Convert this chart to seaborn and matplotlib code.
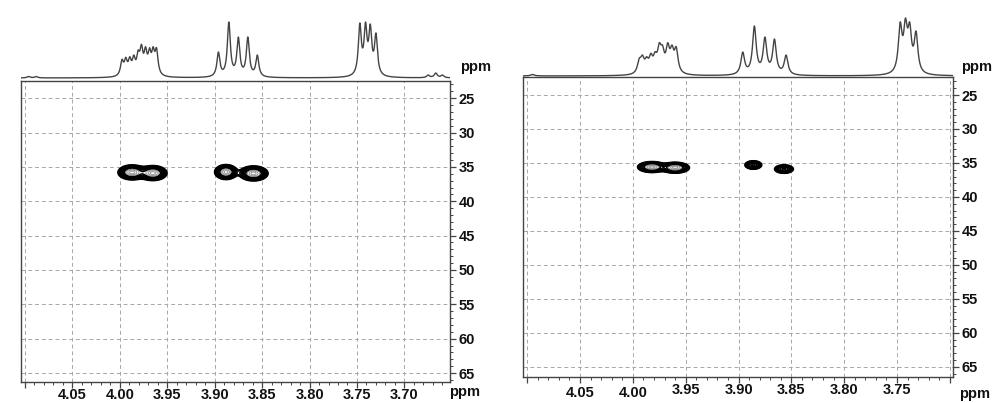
import numpy as np
import pandas as pd
import matplotlib
matplotlib.use("Agg")
import matplotlib.pyplot as plt
import seaborn as sns
from matplotlib.ticker import MultipleLocator
from matplotlib.transforms import ScaledTranslation

# ---------------- data ----------------
x_grid_ppm = [4.10, 4.05, 4.00, 3.95, 3.90, 3.85, 3.80, 3.75, 3.70]
left_x_labels = ["4.05", "4.00", "3.95", "3.90", "3.85", "3.80", "3.75", "3.70"]
right_x_labels = ["4.05", "4.00", "3.95", "3.90", "3.85", "3.80", "3.75"]
y_ticks = [25, 30, 35, 40, 45, 50, 55, 60, 65]

# 1D proton projection (peak shift, relative intensity)
left_1d_ppm = [4.096, 4.088,
               3.9976, 3.9936, 3.9894, 3.9852, 3.9806, 3.9771, 3.9728, 3.9686, 3.9648, 3.9612,
               3.896, 3.885, 3.875, 3.865, 3.855,
               3.747, 3.741, 3.736, 3.730,
               3.675, 3.667, 3.660]
left_1d_int = [1.5, 1.5,
               18.7, 20.7, 21.3, 23.0, 28.0, 33.7, 31.3, 30.3, 31.3, 30.3,
               26.0, 56.0, 41.0, 41.0, 23.0,
               55.0, 56.0, 54.0, 45.0,
               3.0, 5.0, 3.0]
right_1d_ppm = [4.095,
                3.994, 3.991, 3.987, 3.983, 3.979, 3.975, 3.972, 3.967, 3.963, 3.959,
                3.896, 3.885, 3.875, 3.866, 3.855,
                3.747, 3.742, 3.738, 3.732]
right_1d_int = [1.5,
                17.7, 21.0, 19.3, 22.7, 24.3, 33.3, 31.0, 33.3, 31.0, 29.3,
                24.0, 50.0, 39.0, 37.0, 21.0,
                54.0, 58.0, 54.0, 45.0]

# 2D cross peaks (1H shift, 13C shift, intensity, 1H width, 13C width)
left_2d_h = [3.987, 3.965, 3.888, 3.859]
left_2d_c = [35.8, 35.9, 35.75, 35.95]
left_2d_amp = [1.0, 1.0, 1.0, 1.0]
left_2d_wh = [0.0068, 0.0068, 0.0055, 0.0070]
left_2d_wc = [0.50, 0.50, 0.50, 0.50]

right_2d_h = [3.982, 3.960, 3.886, 3.857]
right_2d_c = [35.6, 35.7, 35.3, 35.9]
right_2d_amp = [1.0, 1.0, 0.55, 0.55]
right_2d_wh = [0.0062, 0.0062, 0.0042, 0.0047]
right_2d_wc = [0.37, 0.37, 0.33, 0.33]

# ---------------- style ----------------
sns.set_style("white")
plt.rcParams["font.family"] = ["Liberation Sans", "DejaVu Sans"]
plt.rcParams["font.weight"] = "bold"

W, H = 993, 403
fig = plt.figure(figsize=(W / 100, H / 100), dpi=100)


def rect(x0, y0, x1, y1):
    return [x0 / W, 1 - y1 / H, (x1 - x0) / W, (y1 - y0) / H]


def lor(x, x0, w):
    return 1.0 / (1.0 + ((x - x0) / w) ** 2)


def spectrum(ax, ppm, inten, xlim, w, ylim):
    P = np.array(ppm)
    Hh = np.array(inten)
    L = lor(P[:, None], P[None, :], w)
    A = np.clip(np.linalg.solve(L, Hh), 0, None)
    x = np.linspace(xlim[0], xlim[1], 4000)
    y = (A[None, :] * lor(x[:, None], P[None, :], w)).sum(1)
    df = pd.DataFrame({"ppm": x, "I": y})
    sns.lineplot(data=df, x="ppm", y="I", ax=ax, color="#444444", lw=1.0,
                 sort=False, estimator=None)
    ax.set_xlim(*xlim)
    ax.set_ylim(*ylim)
    ax.axis("off")


def panel(ax, xlim, ylim, labels, hs, cs, amps, whs, wcs):
    hx = np.linspace(xlim[0], xlim[1], 1000)
    cy = np.linspace(ylim[1], ylim[0], 700)
    HX, CY = np.meshgrid(hx, cy)
    Z = np.zeros_like(HX)
    for h0, c0, a, wh, wc in zip(hs, cs, amps, whs, wcs):
        Z += a * np.exp(-0.5 * ((HX - h0) / wh) ** 2 - 0.5 * ((CY - c0) / wc) ** 2)
    dark = 0.09 * 1.28 ** np.arange(8)
    light = [0.65, 0.8, 0.93, 1.2]
    ax.contour(HX, CY, Z, levels=dark, colors="black", linewidths=1.1)
    ax.contour(HX, CY, Z, levels=light, colors="#888888", linewidths=0.6)

    ax.set_xlim(*xlim)
    ax.set_ylim(*ylim)
    ax.set_xticks(x_grid_ppm)
    ax.set_xticklabels([f"{v:.2f}" if f"{v:.2f}" in labels else "" for v in x_grid_ppm])
    ax.xaxis.set_minor_locator(MultipleLocator(0.01))
    ax.yaxis.tick_right()
    ax.set_yticks(y_ticks)
    ax.yaxis.set_minor_locator(MultipleLocator(1))
    ax.tick_params(axis="both", which="major", direction="out", length=4, width=0.9,
                   color="#444444", labelsize=10.5)
    ax.tick_params(axis="x", which="major", pad=0)
    ax.tick_params(axis="y", which="major", pad=2)
    ax.tick_params(axis="both", which="minor", direction="out", length=2.5, width=0.7,
                   color="#444444")
    ax.tick_params(axis="x", which="both", bottom=True, top=False)
    ax.tick_params(axis="y", which="both", right=True, left=False)
    for t in ax.get_xticklabels() + ax.get_yticklabels():
        t.set_fontweight("bold")
        t.set_color("#111111")
    ax.grid(True, which="major", color="#a8a8a8", lw=0.7, ls=(0, (4, 3)))
    ax.set_xlabel("")
    ax.set_ylabel("")
    for s in ax.spines.values():
        s.set_color("#444444")
        s.set_linewidth(1.0)
        s.set_visible(True)


# left panel
lx = (4.104, 3.652)
axL = fig.add_axes(rect(21, 81, 450, 382))
panel(axL, lx, (66.3, 22.5), left_x_labels, left_2d_h, left_2d_c, left_2d_amp,
      left_2d_wh, left_2d_wc)
axLs = fig.add_axes(rect(21, 5, 450, 81))
spectrum(axLs, left_1d_ppm, left_1d_int, lx, 0.0019, (-3, 73))

# right panel
rx = (4.104, 3.697)
axR = fig.add_axes(rect(523, 77, 953, 377))
panel(axR, rx, (66.5, 22.35), right_x_labels, right_2d_h, right_2d_c, right_2d_amp,
      right_2d_wh, right_2d_wc)
axRs = fig.add_axes(rect(523, 5, 953, 77))
spectrum(axRs, right_1d_ppm, right_1d_int, rx, 0.0021, (-1, 71))

# in the scan the first two right-hand labels sit a little lower
for t in axR.get_xticklabels():
    if t.get_text() in ("4.05", "4.00"):
        t.set_transform(t.get_transform() + ScaledTranslation(0, -3 / 100, fig.dpi_scale_trans))

# unit labels
for (px, py) in [(476, 67), (977, 67), (465, 392), (975, 394)]:
    fig.text(px / W, 1 - py / H, "ppm", ha="center", va="center",
             fontsize=10.5, fontweight="bold", color="#111111")

fig.savefig("out.png", dpi=100)
